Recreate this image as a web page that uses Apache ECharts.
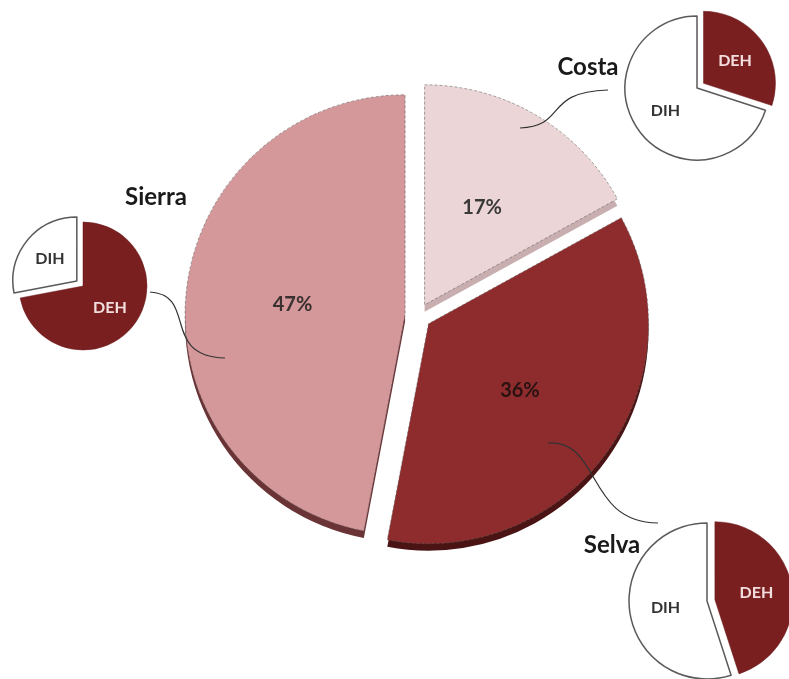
<!DOCTYPE html>
<html><head><meta charset="utf-8">
<script src="https://cdn.jsdelivr.net/npm/echarts@6/dist/echarts.min.js"></script>
<style>html,body{margin:0;padding:0;background:#fff}#c{width:789px;height:679px}</style>
</head><body><div id="c"></div>
<script>
// Main pie: share by region (%)
var regions = ['Costa', 'Selva', 'Sierra'];
var regionShare = [17, 36, 47];
// Sub pies: DEH / DIH split by region (%)
var subCategories = ['DEH', 'DIH'];
var costaSplit = [30, 70];
var sierraSplit = [72, 28];
var selvaSplit = [45, 55];

var FONT = 'Lato, "Open Sans", sans-serif';
var regionColors = {Costa: '#ECD5D7', Selva: '#8E2C2D', Sierra: '#D4989B'};
var regionSide = {Costa: '#C9AEB0', Selva: '#4A1414', Sierra: '#6A3335'};
var regionText = {Costa: '#3a3a3a', Selva: '#2a1212', Sierra: '#3a3030'};

var mainData = regions.map(function (r, i) {
  return {
    name: r, value: regionShare[i], selected: true,
    itemStyle: {color: regionColors[r], shadowColor: regionSide[r]},
    label: {color: regionText[r]}
  };
});
var outlineData = regions.map(function (r, i) {
  return {name: r, value: regionShare[i], selected: true};
});

function subData(split, explodeIdx) {
  return subCategories.map(function (c, i) {
    var isDEH = c === 'DEH';
    return {
      name: c, value: split[i], selected: i === explodeIdx,
      itemStyle: {
        color: isDEH ? '#7A1F20' : '#ffffff',
        borderColor: isDEH ? '#6a1a1a' : '#5a5a5a',
        borderWidth: isDEH ? 0.5 : 1.5
      },
      label: {color: isDEH ? '#f3dede' : '#333333'}
    };
  });
}

function subPie(center, radius, split, explodeIdx) {
  return {
    type: 'pie', center: center, radius: radius, startAngle: 90,
    selectedMode: 'multiple', selectedOffset: 8, animation: false, silent: true,
    label: {show: true, position: 'inner', formatter: '{b}', fontFamily: FONT, fontWeight: 'bold', fontSize: 16},
    labelLine: {show: false},
    data: subData(split, explodeIdx)
  };
}

var chart = echarts.init(document.getElementById('c'), null, {renderer: 'canvas'});
chart.setOption({
  backgroundColor: '#ffffff',
  animation: false,
  series: [
    {
      type: 'pie', center: [418, 316], radius: 220, startAngle: 90,
      selectedMode: 'multiple', selectedOffset: 13, silent: true,
      itemStyle: {borderWidth: 0, shadowBlur: 0, shadowOffsetX: 0, shadowOffsetY: 7},
      label: {show: true, position: 'inner', fontFamily: FONT, fontWeight: 'bold', fontSize: 20,
        formatter: function (p) { return p.value + '%'; }},
      labelLine: {show: false},
      data: mainData
    },
    {
      type: 'pie', center: [418, 316], radius: 220, startAngle: 90, z: 3,
      selectedMode: 'multiple', selectedOffset: 13, silent: true,
      itemStyle: {color: 'rgba(0,0,0,0)', borderColor: 'rgba(95,95,95,0.55)', borderWidth: 1, borderType: [3, 2]},
      label: {show: false}, labelLine: {show: false},
      data: outlineData
    },
    subPie([697, 88], 72, costaSplit, 0),
    subPie([83, 286], 64, sierraSplit, 1),
    subPie([707, 601], 78, selvaSplit, 0)
  ],
  graphic: [
    {type: 'bezierCurve', z: 10, shape: {x1: 520, y1: 128, cpx1: 568, cpy1: 126, cpx2: 542, cpy2: 92, x2: 608, y2: 90},
      style: {stroke: '#333', lineWidth: 1.2, fill: null}},
    {type: 'bezierCurve', z: 10, shape: {x1: 150, y1: 292, cpx1: 198, cpy1: 295, cpx2: 160, cpy2: 356, x2: 225, y2: 358},
      style: {stroke: '#333', lineWidth: 1.2, fill: null}},
    {type: 'bezierCurve', z: 10, shape: {x1: 548, y1: 443, cpx1: 602, cpy1: 440, cpx2: 585, cpy2: 522, x2: 658, y2: 523},
      style: {stroke: '#333', lineWidth: 1.2, fill: null}},
    {type: 'text', z: 10, x: 588, y: 67, style: {text: 'Costa', fontFamily: FONT, fontWeight: 'bold', fontSize: 24, fill: '#1a1a1a', textAlign: 'center', textVerticalAlign: 'middle'}},
    {type: 'text', z: 10, x: 156, y: 197, style: {text: 'Sierra', fontFamily: FONT, fontWeight: 'bold', fontSize: 24, fill: '#1a1a1a', textAlign: 'center', textVerticalAlign: 'middle'}},
    {type: 'text', z: 10, x: 612, y: 545, style: {text: 'Selva', fontFamily: FONT, fontWeight: 'bold', fontSize: 24, fill: '#1a1a1a', textAlign: 'center', textVerticalAlign: 'middle'}}
  ]
});
</script>
</body></html>
